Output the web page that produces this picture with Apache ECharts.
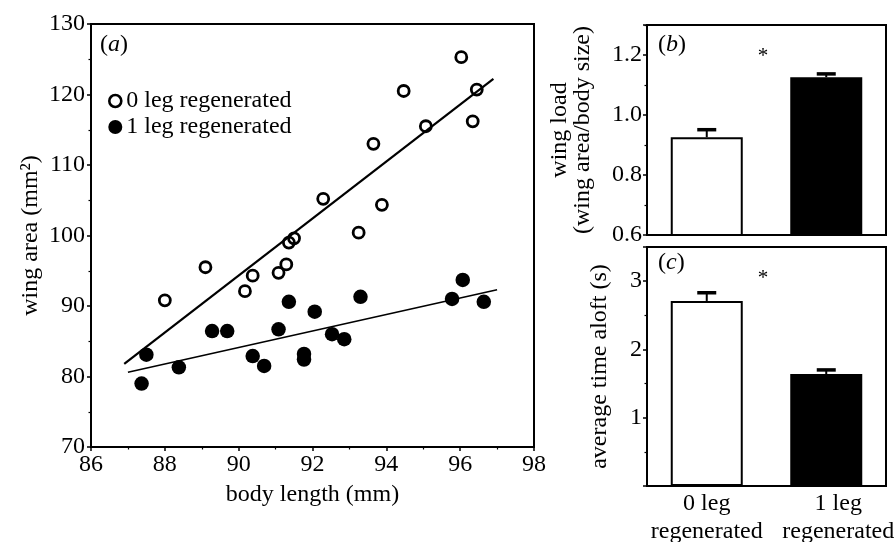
<!DOCTYPE html>
<html>
<head>
<meta charset="utf-8">
<script src="https://cdn.jsdelivr.net/npm/echarts/dist/echarts.min.js"></script>
<style>html,body{margin:0;padding:0;background:#fff}#c{width:896px;height:542px}</style>
</head>
<body>
<div id="c"></div>
<script>
// ---- data ----
const openName = '0 leg regenerated';
const filledName = '1 leg regenerated';
const openX = [88.0, 89.1, 90.17, 90.38, 91.08, 91.29, 91.36, 91.5, 92.29, 93.25, 93.88, 93.65, 94.47, 95.07, 96.03, 96.45, 96.34];
const openY = [90.8, 95.5, 92.1, 94.3, 94.7, 95.9, 99.0, 99.6, 105.2, 100.4, 104.35, 113.0, 120.5, 115.5, 125.3, 120.7, 116.2];
const filledX = [87.37, 87.5, 88.38, 89.28, 89.69, 90.38, 90.69, 91.08, 91.36, 92.06, 91.77, 91.77, 92.53, 92.86, 93.3, 95.78, 96.07, 96.64];
const filledY = [79.0, 83.1, 81.3, 86.45, 86.45, 82.9, 81.5, 86.7, 90.6, 89.2, 83.2, 82.4, 86.0, 85.3, 91.3, 91.0, 93.7, 90.6];
const fitOpenX = [86.9, 96.9];
const fitOpenY = [81.8, 122.2];
const fitFilledX = [87.0, 97.0];
const fitFilledY = [80.6, 92.3];

const barCategories = ['0 leg\nregenerated', '1 leg\nregenerated'];
const wingLoadMean = [0.926, 1.126];
const wingLoadUpper = [0.951, 1.137];
const timeAloftMean = [2.71, 1.64];
const timeAloftUpper = [2.83, 1.70];

const xTicksA = {min: 86, max: 98, interval: 2};
const yTicksA = {min: 70, max: 130, interval: 10};
const yTicksB = {min: 0.6, max: 1.3, interval: 0.2};
const yTicksC = {min: 0, max: 3.5, interval: 1};

// ---- chart ----
const FONT = 'Liberation Serif';
const FS = 24;
const txt = {fontFamily: FONT, fontSize: FS, color: '#000'};
const zip = (a, b) => a.map((v, i) => [v, b[i]]);

function valAxis(extra) {
  return Object.assign({
    type: 'value',
    axisLine: {show: true, onZero: false, lineStyle: {color: '#000', width: 2}},
    axisTick: {show: true, inside: false, length: 4, lineStyle: {color: '#000', width: 1.5}},
    minorTick: {show: true, splitNumber: 2, length: 2.5, lineStyle: {color: '#000', width: 1.2}},
    splitLine: {show: false},
    minorSplitLine: {show: false},
    axisLabel: Object.assign({}, txt, {margin: 6}),
    nameTextStyle: Object.assign({}, txt),
    nameLocation: 'middle',
    nameMoveOverlap: false
  }, extra);
}

function errItem(params, api) {
  const x = api.value(0), lo = api.value(1), hi = api.value(2);
  const p0 = api.coord([x, lo]);
  const p1 = api.coord([x, hi]);
  const hw = 9.5;
  return {
    type: 'group',
    children: [
      {type: 'line', shape: {x1: p0[0], y1: p0[1], x2: p1[0], y2: p1[1]}, style: {stroke: '#000', lineWidth: 2}},
      {type: 'line', shape: {x1: p1[0] - hw, y1: p1[1], x2: p1[0] + hw, y2: p1[1]}, style: {stroke: '#000', lineWidth: 3.5}}
    ]
  };
}

const barStyles = [
  {color: '#fff', borderColor: '#000', borderWidth: 2},
  {color: '#000', borderColor: '#000', borderWidth: 2}
];

const richLabel = {
  n: {fontFamily: FONT, fontSize: FS, fill: '#000'},
  i: {fontFamily: FONT, fontSize: FS, fontStyle: 'italic', fill: '#000'}
};

const chart = echarts.init(document.getElementById('c'), null, {renderer: 'canvas', width: 896, height: 542});

const option = {
  backgroundColor: '#fff',
  animation: false,
  textStyle: {fontFamily: FONT},
  grid: [
    {left: 91, top: 24, width: 443, height: 423, show: true, borderColor: '#000', borderWidth: 2, backgroundColor: 'transparent', containLabel: false, outerBoundsMode: 'none'},
    {left: 647, top: 25, width: 239, height: 210, show: true, borderColor: '#000', borderWidth: 2, backgroundColor: 'transparent', containLabel: false, outerBoundsMode: 'none'},
    {left: 647, top: 247, width: 239, height: 239, show: true, borderColor: '#000', borderWidth: 2, backgroundColor: 'transparent', containLabel: false, outerBoundsMode: 'none'}
  ],
  legend: {
    data: [
      {name: openName, icon: 'circle', itemStyle: {color: '#fff', borderColor: '#000', borderWidth: 2.6}},
      {name: filledName, icon: 'circle', itemStyle: {color: '#000', borderColor: '#000', borderWidth: 2}}
    ],
    orient: 'vertical',
    left: 108,
    top: 89,
    itemWidth: 12,
    itemHeight: 12,
    itemGap: 2,
    padding: 0,
    textStyle: Object.assign({}, txt, {lineHeight: 24}),
    selectedMode: false
  },
  xAxis: [
    valAxis(Object.assign({gridIndex: 0, name: 'body length (mm)', nameGap: 36}, xTicksA)),
    {type: 'category', gridIndex: 1, data: barCategories, axisLine: {show: true, lineStyle: {color: '#000', width: 2}}, axisTick: {show: false}, axisLabel: {show: false}, splitLine: {show: false}},
    {type: 'category', gridIndex: 2, data: [
        {value: barCategories[0]},
        {value: barCategories[1], textStyle: {padding: [0, 0, 0, 24]}}
      ],
      axisLine: {show: true, lineStyle: {color: '#000', width: 2}}, axisTick: {show: false},
      axisLabel: Object.assign({}, txt, {margin: 4, lineHeight: 28, interval: 0}), splitLine: {show: false}}
  ],
  yAxis: [
    valAxis(Object.assign({gridIndex: 0, name: 'wing area (mm²)', nameGap: 48, nameRotate: 90}, yTicksA)),
    valAxis(Object.assign({gridIndex: 1, name: 'wing load\n(wing area/body size)', nameGap: 53, nameRotate: 90,
      nameTextStyle: Object.assign({}, txt, {lineHeight: 23}),
      axisLabel: Object.assign({}, txt, {margin: 5, showMaxLabel: false, formatter: v => v.toFixed(1)})}, yTicksB)),
    valAxis(Object.assign({gridIndex: 2, name: 'average time aloft (s)', nameGap: 35, nameRotate: 90,
      axisLabel: Object.assign({}, txt, {margin: 5, showMaxLabel: false, showMinLabel: false})}, yTicksC))
  ],
  series: [
    {type: 'line', name: 'fit0', xAxisIndex: 0, yAxisIndex: 0, data: zip(fitOpenX, fitOpenY), showSymbol: false, symbol: 'none', lineStyle: {color: '#000', width: 2.2}, z: 2, silent: true},
    {type: 'line', name: 'fit1', xAxisIndex: 0, yAxisIndex: 0, data: zip(fitFilledX, fitFilledY), showSymbol: false, symbol: 'none', lineStyle: {color: '#000', width: 1.6}, z: 2, silent: true},
    {type: 'scatter', name: openName, xAxisIndex: 0, yAxisIndex: 0, data: zip(openX, openY), symbol: 'circle', symbolSize: 11,
      itemStyle: {color: 'rgba(255,255,255,0)', borderColor: '#000', borderWidth: 2.8, opacity: 1}, z: 3},
    {type: 'scatter', name: filledName, xAxisIndex: 0, yAxisIndex: 0, data: zip(filledX, filledY), symbol: 'circle', symbolSize: 14.5,
      itemStyle: {color: '#000', opacity: 1}, z: 3},
    {type: 'bar', xAxisIndex: 1, yAxisIndex: 1, barWidth: 72, data: wingLoadMean.map((v, i) => ({value: v, itemStyle: barStyles[i]})), z: 2},
    {type: 'custom', xAxisIndex: 1, yAxisIndex: 1, renderItem: errItem, data: wingLoadMean.map((v, i) => [i, v, wingLoadUpper[i]]), z: 3},
    {type: 'bar', xAxisIndex: 2, yAxisIndex: 2, barWidth: 72, data: timeAloftMean.map((v, i) => ({value: v, itemStyle: barStyles[i]})), z: 2},
    {type: 'custom', xAxisIndex: 2, yAxisIndex: 2, renderItem: errItem, data: timeAloftMean.map((v, i) => [i, v, timeAloftUpper[i]]), z: 3}
  ],
  graphic: [
    {type: 'text', x: 100, y: 45, style: {text: '{n|(}{i|a}{n|)}', rich: richLabel, verticalAlign: 'middle', align: 'left'}},
    {type: 'text', x: 658, y: 45, style: {text: '{n|(}{i|b}{n|)}', rich: richLabel, verticalAlign: 'middle', align: 'left'}},
    {type: 'text', x: 658, y: 263, style: {text: '{n|(}{i|c}{n|)}', rich: richLabel, verticalAlign: 'middle', align: 'left'}},
    {type: 'text', x: 763, y: 56, style: {text: '*', fontFamily: FONT, fontSize: 21, fill: '#000', align: 'center', verticalAlign: 'middle'}},
    {type: 'text', x: 763, y: 278, style: {text: '*', fontFamily: FONT, fontSize: 21, fill: '#000', align: 'center', verticalAlign: 'middle'}}
  ]
};
chart.setOption(option);
</script>
</body>
</html>
